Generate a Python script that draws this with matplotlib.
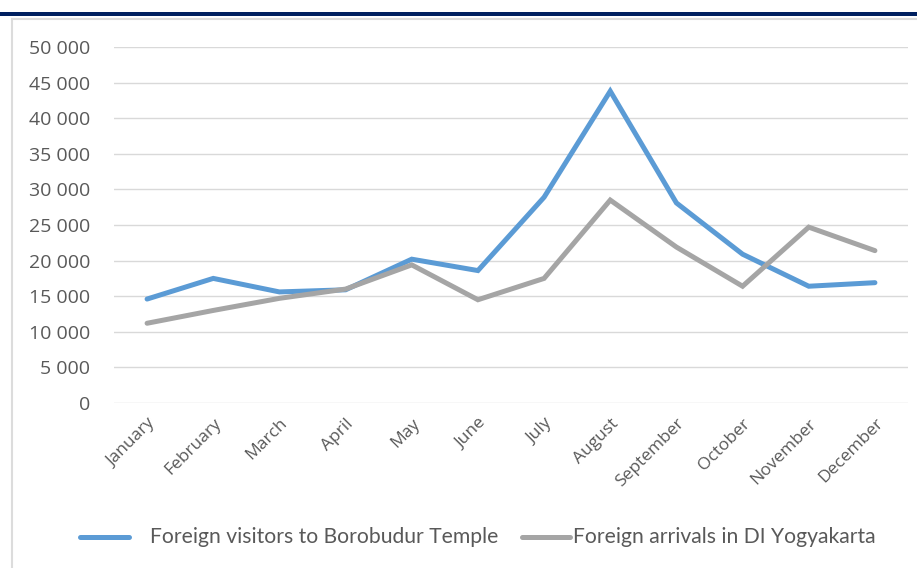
import matplotlib
matplotlib.use("Agg")
import matplotlib.pyplot as plt
from matplotlib.lines import Line2D
from matplotlib.patches import Rectangle
from matplotlib.ticker import FuncFormatter

months = ["January", "February", "March", "April", "May", "June", "July",
          "August", "September", "October", "November", "December"]
borobudur = [14600, 17500, 15600, 15900, 20200, 18600, 28900, 43800, 28100, 20900, 16400, 16900]
yogyakarta = [11200, 13000, 14700, 16000, 19400, 14500, 17500, 28500, 21900, 16400, 24700, 21400]
series_names = ["Foreign visitors to Borobudur Temple", "Foreign arrivals in DI Yogyakarta"]
yticks = list(range(0, 50001, 5000))

plt.rcParams['font.family'] = ['Open Sans', 'DejaVu Sans']
text_color = "#595959"
blue = "#5B9BD5"
gray = "#A5A5A5"
grid_c = "#D9D9D9"

W, H = 917, 568
fig = plt.figure(figsize=(W / 100, H / 100), dpi=100)
fig.patch.set_facecolor("white")

# decorative frame
fig.add_artist(Rectangle((0, 1 - 16 / H), 1, 4 / H, transform=fig.transFigure,
                         color="#002060", lw=0))
fig.add_artist(Line2D([12 / W, 1], [1 - 19 / H, 1 - 19 / H], transform=fig.transFigure,
                      color="#DCDCDC", lw=1.5))
fig.add_artist(Line2D([12 / W, 12 / W], [0, 1 - 19 / H], transform=fig.transFigure,
                      color="#DCDCDC", lw=1.5))

ax = fig.add_axes([114 / W, 1 - 403 / H, (908 - 114) / W, (403 - 47) / H])
x = list(range(len(months)))
l1, = ax.plot(x, borobudur, color=blue, lw=3.6, solid_capstyle="round", solid_joinstyle="miter", zorder=3)
l2, = ax.plot(x, yogyakarta, color=gray, lw=3.6, solid_capstyle="round", solid_joinstyle="miter", zorder=3)

ax.set_xlim(-0.5, len(months) - 0.5)
ax.set_ylim(0, 50000)
ax.set_yticks(yticks)
ax.yaxis.set_major_formatter(FuncFormatter(lambda v, p: f"{int(v):,}".replace(",", " ")))
ax.grid(axis="y", color=grid_c, lw=1.0)
ax.set_axisbelow(True)
for s in ax.spines.values():
    s.set_visible(False)
ax.tick_params(axis="both", length=0, colors=text_color)
ax.tick_params(axis="y", pad=17, labelsize=14)
ax.set_xticks(x)
ax.set_xticklabels(months, rotation=45, ha="right", rotation_mode="anchor", fontsize=12.5)
ax.tick_params(axis="x", pad=9)

# legend
leg_y = 1 - 537 / H
fig.add_artist(Line2D([80 / W, 129 / W], [leg_y, leg_y], transform=fig.transFigure,
                      color=blue, lw=3.6, solid_capstyle="round"))
fig.text(150 / W, leg_y, series_names[0], color=text_color, fontsize=15.2, va="center", ha="left",
         family=["Lato", "DejaVu Sans"])
fig.add_artist(Line2D([522 / W, 570 / W], [leg_y, leg_y], transform=fig.transFigure,
                      color=gray, lw=3.6, solid_capstyle="round"))
fig.text(573 / W, leg_y, series_names[1], color=text_color, fontsize=15.2, va="center", ha="left",
         family=["Lato", "DejaVu Sans"])

fig.savefig("out.png", dpi=100, facecolor="white")
